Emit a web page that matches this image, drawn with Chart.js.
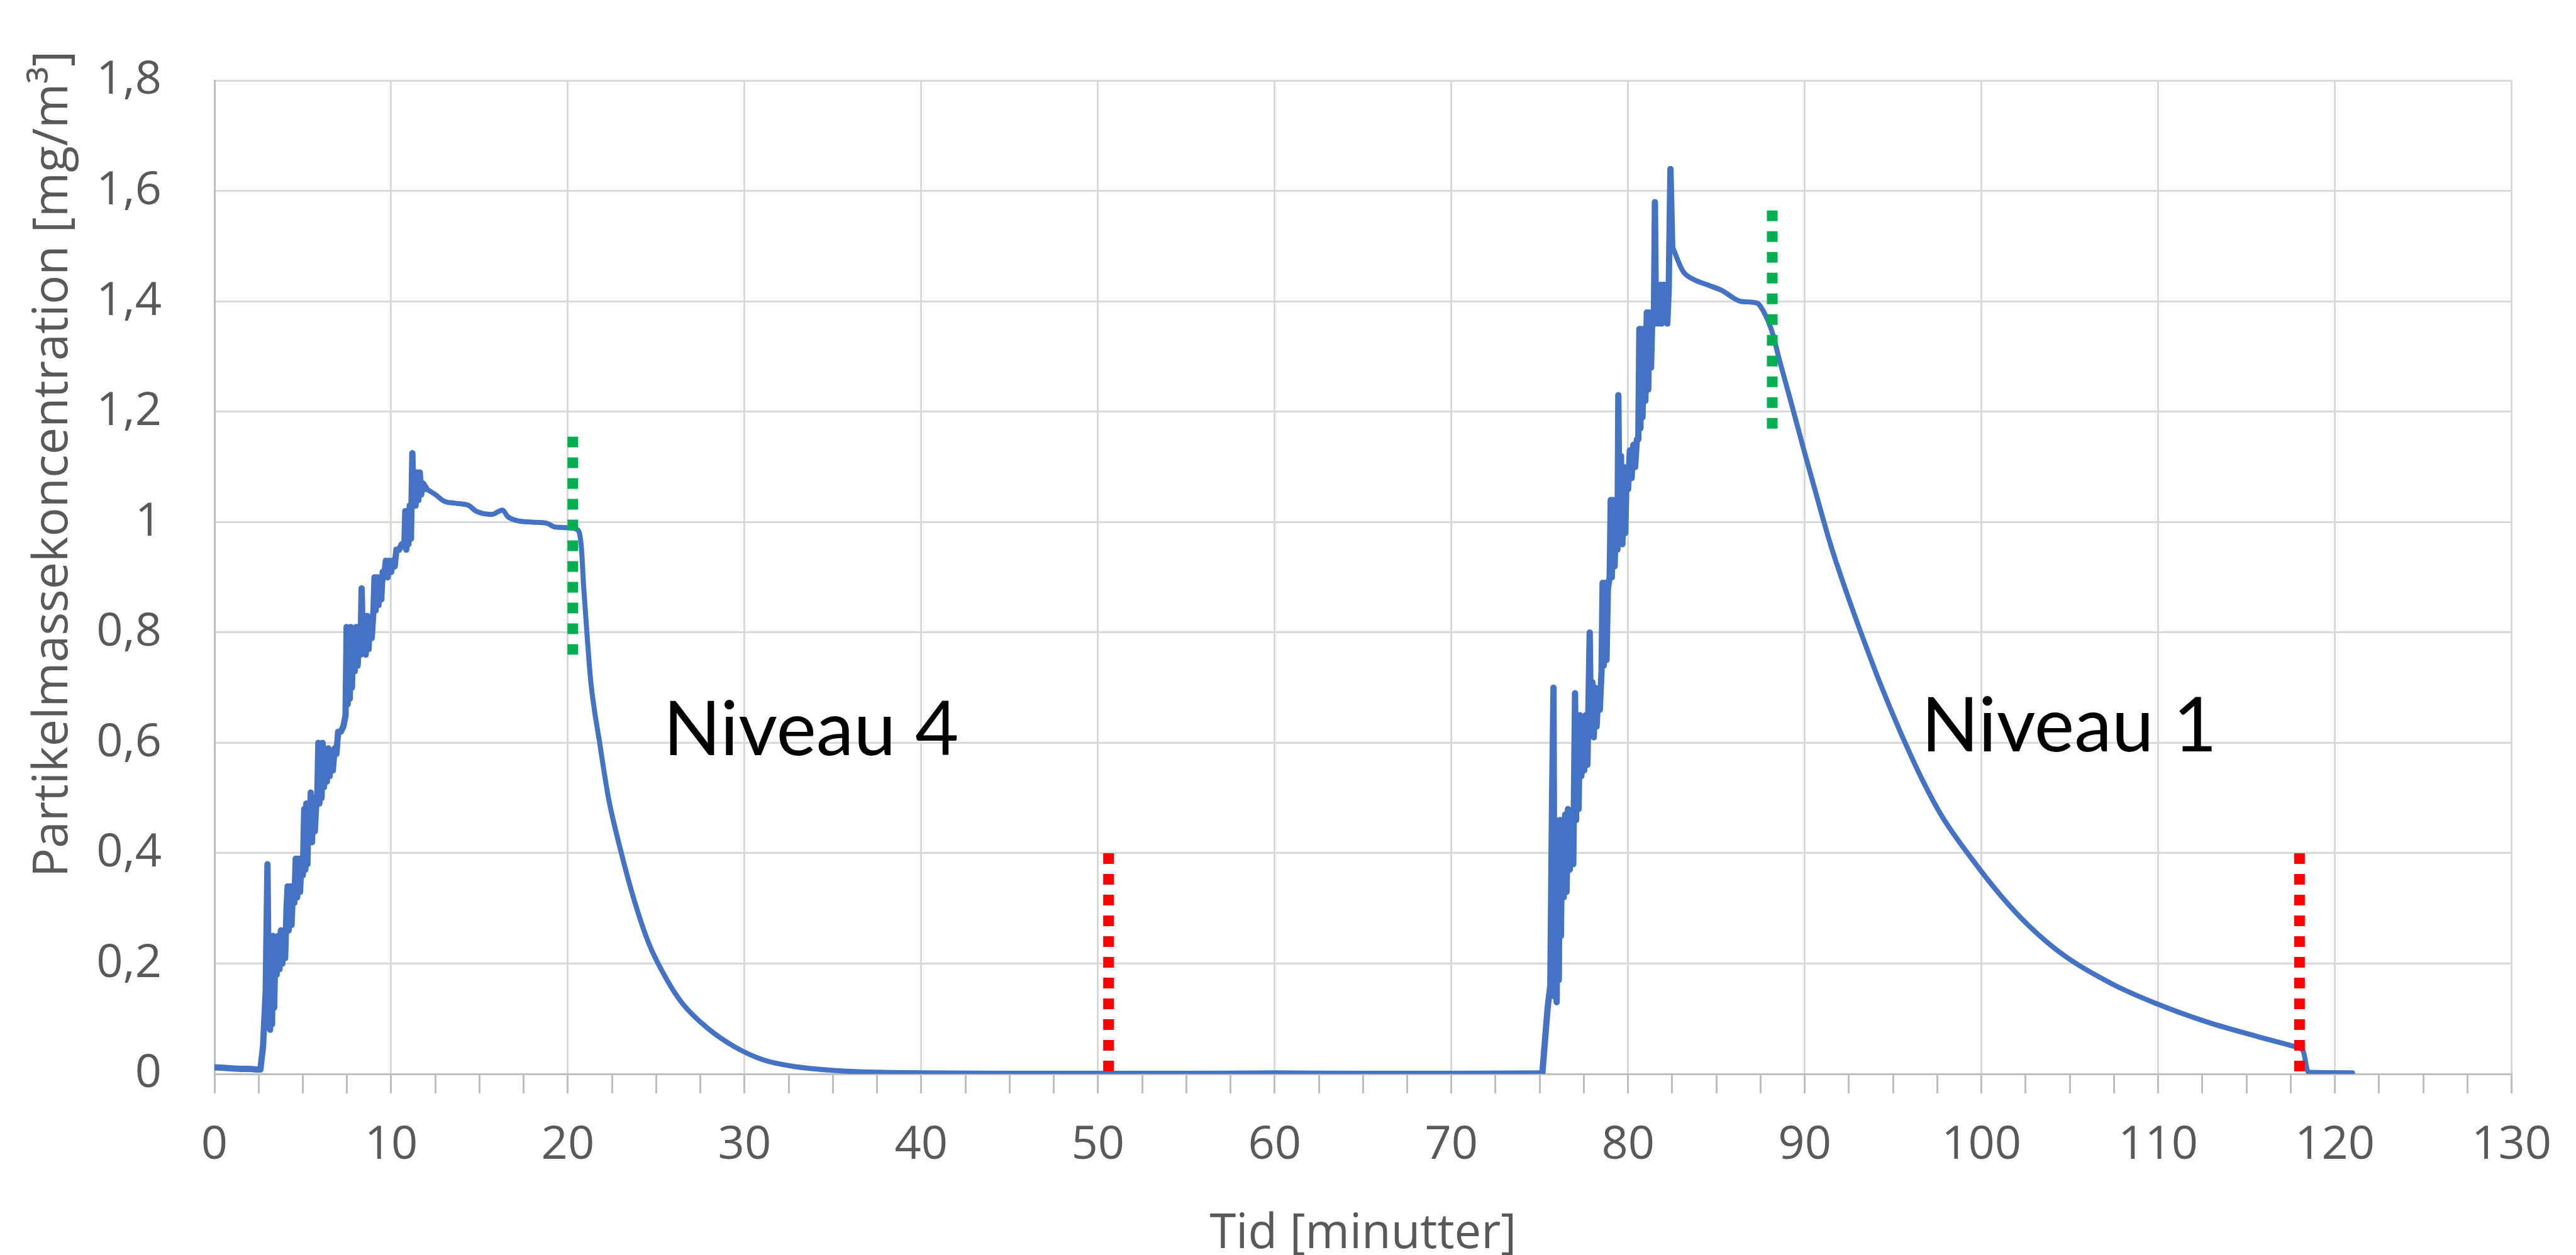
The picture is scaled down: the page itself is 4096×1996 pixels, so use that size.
<!DOCTYPE html>
<html>
<head>
<meta charset="utf-8">
<script src="https://cdn.jsdelivr.net/npm/chart.js@4.4.0/dist/chart.umd.min.js"></script>
<style>
  html, body { margin: 0; padding: 0; background: #fff; }
  canvas { display: block; }
</style>
</head>
<body>
<canvas id="graf" width="4096" height="1996" style="width:4096px;height:1996px"></canvas>
<script>
// [tid (min), koncentration (mg/m3)] - aflaest fra figuren
const start = [[0,0.012],[0.5,0.011],[1,0.010],[1.5,0.009],[2,0.009],[2.4,0.008],[2.6,0.008]];

const niveau4Op = [
  [2.75,0.05],[2.9,0.15],[3.0,0.38],[3.08,0.10],[3.15,0.08],[3.2,0.24],[3.26,0.09],[3.32,0.25],
  [3.38,0.12],[3.45,0.24],[3.52,0.18],[3.6,0.25],[3.68,0.19],[3.76,0.26],[3.84,0.20],[3.92,0.25],
  [4.0,0.21],[4.08,0.30],[4.14,0.34],[4.2,0.26],[4.28,0.34],[4.36,0.27],[4.44,0.33],[4.52,0.31],
  [4.6,0.39],[4.68,0.32],[4.76,0.39],[4.84,0.33],[4.92,0.38],[5.0,0.36],[5.08,0.48],[5.14,0.37],
  [5.2,0.49],[5.26,0.38],[5.32,0.47],[5.38,0.42],[5.45,0.51],[5.52,0.42],[5.6,0.50],[5.68,0.44],
  [5.76,0.49],[5.82,0.50],[5.88,0.60],[5.94,0.49],[6.0,0.59],[6.06,0.50],[6.12,0.60],[6.2,0.52],
  [6.28,0.58],[6.36,0.53],[6.44,0.59],[6.52,0.54],[6.6,0.58],[6.7,0.55],[6.8,0.59],[6.9,0.58],
  [7.0,0.62],[7.15,0.62],[7.3,0.63],[7.42,0.65],[7.48,0.81],[7.54,0.67],[7.6,0.80],[7.66,0.68],
  [7.72,0.81],[7.78,0.70],[7.86,0.80],[7.94,0.73],[8.02,0.81],[8.1,0.74],[8.18,0.79],[8.26,0.76],
  [8.33,0.88],[8.4,0.78],[8.48,0.83],[8.56,0.76],[8.64,0.83],[8.72,0.77],[8.8,0.82],[8.9,0.79],
  [9.0,0.84],[9.06,0.90],[9.12,0.84],[9.2,0.90],[9.28,0.85],[9.36,0.89],[9.44,0.86],[9.52,0.91],
  [9.6,0.90],[9.7,0.93],[9.8,0.90],[9.9,0.93],[10.0,0.91],[10.1,0.93],[10.2,0.92],[10.3,0.95],
  [10.45,0.95],[10.6,0.96],[10.75,0.96],[10.8,1.02],[10.86,0.95],[10.92,1.02],[10.98,0.96],
  [11.05,1.03],[11.12,0.97],[11.2,1.125],[11.26,1.04],[11.32,1.08],[11.38,1.03],[11.46,1.09],
  [11.54,1.04],[11.62,1.09],[11.7,1.05],[11.8,1.07],[12.0,1.06]
];

const niveau4Ned = [
  [12.5,1.05],[13.0,1.038],[13.7,1.034],[14.4,1.03],[14.8,1.02],[15.7,1.014],[16.3,1.022],
  [16.6,1.01],[17.1,1.003],[18.0,1.0],[18.8,0.998],[19.3,0.991],[20.0,0.99],[20.5,0.987],
  [20.75,0.96],[20.9,0.88],[21.1,0.79],[21.3,0.71],[21.8,0.60],[22.3,0.50],[22.95,0.41],
  [23.8,0.31],[24.6,0.235],[25.6,0.171],[26.5,0.127],[27.9,0.083],[29.5,0.048],[31.1,0.025],
  [32.7,0.014],[35.2,0.006],[37.6,0.003],[40,0.002],[45,0.001],[50,0.001],[55,0.001],
  [60,0.002],[65,0.001],[70,0.001],[75.15,0.002]
];

const niveau1Op = [
  [75.45,0.12],[75.6,0.16],[75.7,0.50],[75.78,0.70],[75.84,0.14],[75.9,0.46],[75.96,0.13],
  [76.02,0.45],[76.08,0.17],[76.14,0.46],[76.2,0.25],[76.28,0.46],[76.36,0.32],[76.44,0.47],
  [76.52,0.33],[76.6,0.48],[76.7,0.37],[76.8,0.47],[76.9,0.38],[77.0,0.69],[77.06,0.46],
  [77.12,0.64],[77.2,0.48],[77.28,0.65],[77.36,0.54],[77.44,0.64],[77.52,0.55],[77.6,0.65],
  [77.7,0.56],[77.83,0.80],[77.9,0.62],[77.98,0.71],[78.06,0.61],[78.14,0.70],[78.22,0.63],
  [78.3,0.68],[78.4,0.66],[78.5,0.73],[78.56,0.89],[78.62,0.74],[78.7,0.89],[78.78,0.75],
  [78.86,0.88],[78.96,0.90],[79.02,1.04],[79.08,0.90],[79.16,1.04],[79.24,0.92],[79.32,1.03],
  [79.4,0.95],[79.45,1.23],[79.52,0.98],[79.6,1.12],[79.68,0.96],[79.76,1.10],[79.84,0.98],
  [79.92,1.09],[80.0,1.06],[80.1,1.13],[80.2,1.08],[80.3,1.14],[80.4,1.10],[80.5,1.15],
  [80.58,1.15],[80.64,1.35],[80.7,1.17],[80.76,1.35],[80.82,1.19],[80.9,1.35],[80.98,1.22],
  [81.06,1.38],[81.14,1.24],[81.22,1.38],[81.3,1.28],[81.38,1.38],[81.46,1.36],[81.52,1.58],
  [81.58,1.36],[81.66,1.42],[81.74,1.36],[81.82,1.43],[81.9,1.36],[81.98,1.43],[82.06,1.37],
  [82.14,1.43],[82.22,1.36],[82.3,1.42],[82.4,1.64],[82.5,1.50]
];

const niveau1Ned = [
  [83.1,1.455],[83.7,1.44],[84.5,1.43],[85.3,1.42],[86.4,1.40],[87.3,1.397],[87.7,1.38],
  [88.1,1.35],[88.6,1.29],[89.2,1.22],[90.0,1.125],[91.0,1.01],[91.55,0.95],[92.5,0.86],
  [93.35,0.785],[94.3,0.705],[95.34,0.625],[96.7,0.53],[97.8,0.465],[99.45,0.39],[101.1,0.323],
  [102.7,0.268],[104.66,0.215],[107.4,0.163],[109.86,0.128],[112.88,0.093],[115.6,0.068],
  [117.8,0.049],[118.2,0.042],[118.5,0.003],[121.0,0.002]
];

// lodrette markeringer: tid, fra, til
const groenTid = [20.28, 88.16];
const groenFra = [0.76, 1.16];
const groenTil = [1.155, 1.565];
const roedTid = [50.6, 118.0];
const roedFra = [0, 0];
const roedTil = [0.4, 0.4];

const yTicks = [0, 0.2, 0.4, 0.6, 0.8, 1, 1.2, 1.4, 1.6, 1.8];

const tilPunkter = arr => arr.map(p => ({x: p[0], y: p[1]}));

// takkede stigninger tegnes lige, jaevne fald med monoton kurve
function maaleSerie(punkter, glat) {
  return {
    data: tilPunkter(punkter),
    borderColor: '#4472C4',
    borderWidth: glat ? 8 : 10,
    borderJoinStyle: 'round',
    borderCapStyle: 'round',
    pointRadius: 0,
    tension: 0,
    cubicInterpolationMode: glat ? 'monotone' : 'default',
    order: 1
  };
}

function markering(tid, fra, til, farve) {
  return tid.map((t, i) => ({
    data: [{x: t, y: til[i]}, {x: t, y: fra[i]}],
    borderColor: farve,
    borderWidth: 17,
    borderDash: [17, 16],
    borderCapStyle: 'butt',
    pointRadius: 0,
    order: 0
  }));
}

const tekster = {
  id: 'tekster',
  afterDraw(chart) {
    const {ctx, scales: {x, y}} = chart;
    ctx.save();
    ctx.fillStyle = '#000';
    ctx.font = "120px Lato";
    ctx.textBaseline = 'alphabetic';
    ctx.textAlign = 'left';
    ctx.fillText('Niveau 4', x.getPixelForValue(25.4), y.getPixelForValue(0.578));
    ctx.fillText('Niveau 1', x.getPixelForValue(96.6), y.getPixelForValue(0.585));

    ctx.fillStyle = '#595959';
    ctx.font = "76px 'Open Sans'";
    ctx.textAlign = 'center';
    ctx.fillText('Tid [minutter]', (x.left + x.right) / 2, 1985);

    ctx.translate(107, 738);
    ctx.rotate(-Math.PI / 2);
    ctx.font = "77px 'Open Sans'";
    ctx.fillText('Partikelmassekoncentration [mg/m³]', 0, 0);
    ctx.restore();
  }
};

new Chart(document.getElementById('graf'), {
  type: 'line',
  data: {
    datasets: [
      maaleSerie(start.concat(niveau4Op), false),
      maaleSerie(niveau4Op.slice(-1).concat(niveau4Ned), true),
      maaleSerie(niveau4Ned.slice(-1).concat(niveau1Op), false),
      maaleSerie(niveau1Op.slice(-1).concat(niveau1Ned), true),
      ...markering(groenTid, groenFra, groenTil, '#00B050'),
      ...markering(roedTid, roedFra, roedTil, '#FF0000')
    ]
  },
  options: {
    responsive: false,
    devicePixelRatio: 1,
    animation: false,
    layout: { padding: { left: 0, right: 84, top: 85, bottom: 0 } },
    plugins: { legend: { display: false }, tooltip: { enabled: false } },
    scales: {
      x: {
        type: 'linear',
        min: 0,
        max: 130,
        afterFit(s) { s.height = 288; },
        border: { color: '#bfbfbf', width: 3 },
        grid: {
          color: c => (c.tick && c.tick.value % 10 === 0 ? '#d9d9d9' : 'rgba(0,0,0,0)'),
          lineWidth: 3,
          tickColor: '#bfbfbf',
          tickWidth: 3,
          tickLength: 31
        },
        ticks: {
          stepSize: 2.5,
          autoSkip: false,
          maxRotation: 0,
          minRotation: 0,
          padding: 39,
          color: '#595959',
          font: { family: "'Open Sans'", size: 74 },
          callback: v => (v % 10 === 0 ? String(v) : '')
        }
      },
      y: {
        min: 0,
        max: 1.8,
        afterFit(s) { s.width = 341; },
        afterBuildTicks(s) { s.ticks = yTicks.map(v => ({value: v})); },
        border: { color: '#bfbfbf', width: 3 },
        grid: { color: '#d9d9d9', lineWidth: 3, drawTicks: false },
        ticks: {
          padding: 84,
          color: '#595959',
          font: { family: "'Open Sans'", size: 74 },
          callback: v => String(Math.round(v * 10) / 10).replace('.', ',')
        }
      }
    }
  },
  plugins: [tekster]
});
</script>
</body>
</html>
